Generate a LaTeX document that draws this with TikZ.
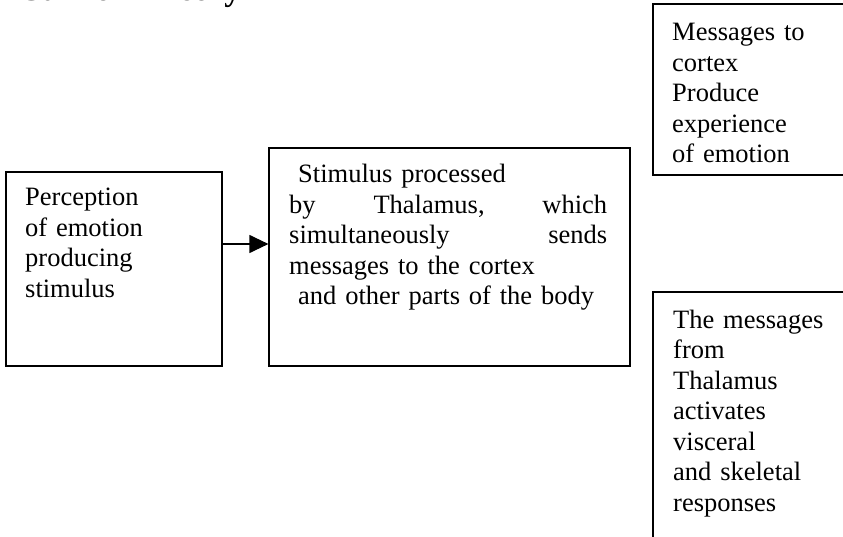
\documentclass[tikz,border=0pt]{standalone}
\usepackage{fontspec}
\setmainfont{Liberation Serif}
\usetikzlibrary{arrows.meta}
\begin{document}
\begin{tikzpicture}[x=1pt,y=-1pt,
  boxnode/.style={draw, line width=1.2pt, rectangle, inner sep=0pt},
  txt/.style={font=\fontsize{26.5}{30.5}\selectfont, inner sep=0pt, anchor=base west, align=left},
  conn/.style={line width=1.2pt, -{Triangle[length=19pt,width=18pt]}}]
\useasboundingbox (0,0) rectangle (843,537);
\clip (0,0) rectangle (843,537);
% title (mostly cut off at the top)
\node[font=\bfseries\fontsize{33}{33}\selectfont, anchor=base west, inner sep=0pt] (title) at (18,1) {Cannon Theory};
% boxes
\node[boxnode, minimum width=216pt, minimum height=194pt] (perc) at (114,269) {};
\node[boxnode, minimum width=361pt, minimum height=218pt] (stim) at (449.5,257) {};
\node[boxnode, minimum width=247pt, minimum height=171pt] (cortex) at (776.5,89.5) {};
\node[boxnode, minimum width=247pt, minimum height=308pt] (body) at (776.5,446) {};
% texts
\node[txt, text width=190pt] (perctxt) at (25,206) {Perception\\of emotion\\producing\\stimulus};
\node[txt, text width=318pt] (stimtxt) at (289,183) {\hspace*{9pt}Stimulus processed\\by\hfill Thalamus,\hfill which\\simultaneously\hfill sends\\messages to the cortex\\\hspace*{9pt}and other parts of the body};
\node[txt, text width=165pt] (cortextxt) at (672,41) {Messages to\\cortex\\Produce\\experience\\of emotion};
\node[txt, text width=165pt] (bodytxt) at (673,328) {The messages\\from\\Thalamus\\activates\\visceral\\and skeletal\\responses};
% connector
\coordinate (ay) at (0,244);
\draw[conn] (perc.east |- ay) -- (stim.west |- ay);
\end{tikzpicture}
\end{document}
